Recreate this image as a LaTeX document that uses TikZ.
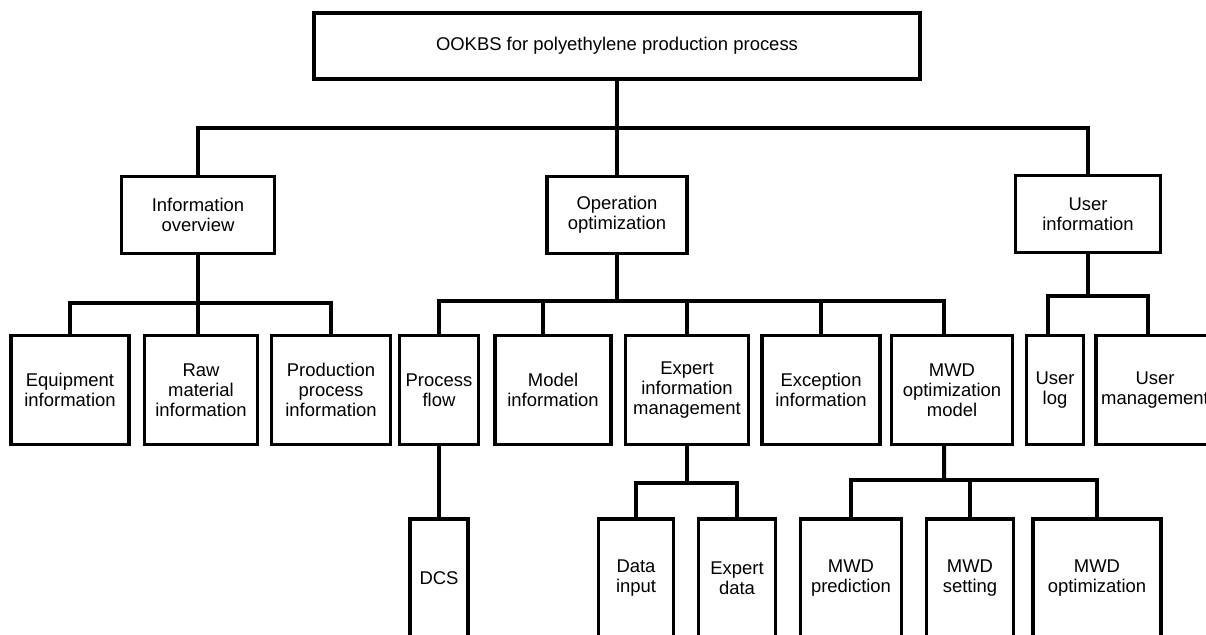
\documentclass[tikz,border=0pt]{standalone}
\usepackage{fontspec}
\setmainfont{Liberation Sans}

\begin{document}
\begin{tikzpicture}[
  x=0.02cm, y=-0.02cm,
  box/.style={draw, line width=0.07cm, fill=white, align=center,
    inner sep=2pt, outer sep=0pt, font=\fontsize{10.5}{11.4}\selectfont},
  sz/.style 2 args={minimum width=#1*0.02cm, minimum height=#2*0.02cm},
  link/.style={line width=0.08cm}
]
\path[use as bounding box] (0,0) rectangle (1206,635);
\clip (0,0) rectangle (1206,635);

\node[box, sz={606}{66}] (root) at (617,46) {OOKBS for polyethylene production process};
\node[box, sz={153}{77}] (info) at (198,215) {Information\\overview};
\node[box, sz={140}{77}] (oper) at (617,215) {Operation\\optimization};
\node[box, sz={145}{77}] (user) at (1088,214) {User\\information};

\node[box, sz={118}{109}] (equip) at (70,390) {Equipment\\information};
\node[box, sz={113}{109}] (raw) at (201,390) {Raw\\material\\information};
\node[box, sz={119}{109}] (prod) at (331,390) {Production\\process\\information};
\node[box, sz={79}{109}] (pflow) at (439,390) {Process\\flow};
\node[box, sz={116}{109}] (model) at (553,390) {Model\\information};
\node[box, sz={123}{109}] (expert) at (687,390) {Expert\\information\\management};
\node[box, sz={118}{109}] (exc) at (821,390) {Exception\\information};
\node[box, sz={121}{109}] (mwd) at (952,390) {MWD\\optimization\\model};
\node[box, sz={57}{109}] (ulog) at (1055,390) {User\\log};
\node[box, sz={118}{109}] (umgmt) at (1155,390) {User\\management};

\node[box, sz={58}{118}] (dcs) at (439,578) {DCS};
\node[box, sz={75}{118}] (dinput) at (636,578) {Data\\input};
\node[box, sz={77}{118}] (edata) at (737,578) {Expert\\data};
\node[box, sz={101}{118}] (mpred) at (851,578) {MWD\\prediction};
\node[box, sz={87}{118}] (mset) at (970,578) {MWD\\setting};
\node[box, sz={128}{118}] (mopt) at (1097,578) {MWD\\optimization};

% junctions
\coordinate (j0) at (617,128);
\coordinate (j1) at (198,303);
\coordinate (j2) at (617,301);
\coordinate (j3) at (687,483);
\coordinate (j4) at (944,480);
\coordinate (j5) at (1088,296);
\coordinate (dm) at ([xshift=-0.2cm]model.north);
\coordinate (dw) at ([xshift=-0.16cm]mwd.north);
\coordinate (dw2) at ([xshift=-0.16cm]mwd.south);
\coordinate (dl) at ([xshift=-0.14cm]ulog.north);
\coordinate (du) at ([xshift=-0.14cm]umgmt.north);

% top level
\draw[link] (root) -- (oper);
\draw[link] (info.north) |- (j0) -| (user.north);

% information overview
\draw[link] (info.south) -- (j1) -- (j1 |- raw.north);
\draw[link] (equip.north) |- (j1) -| (prod.north);

% operation optimization
\draw[link] (oper.south) -- (j2);
\draw[link] (pflow.north) |- (j2) -| (dw);
\draw[link] (dm) -- (dm |- j2);
\draw[link] (expert.north) -- (expert.north |- j2);
\draw[link] (exc.north) -- (exc.north |- j2);
\draw[link] (pflow.south) -- (dcs.north);
\draw[link] (expert.south) -- (j3);
\draw[link] (dinput.north) |- (j3) -| (edata.north);
\draw[link] (dw2) -- (j4);
\draw[link] (mpred.north) |- (j4) -| (mopt.north);
\draw[link] (mset.north) -- (mset.north |- j4);

% user information
\draw[link] (user.south) -- (j5);
\draw[link] (dl) |- (j5) -| (du);
\end{tikzpicture}
\end{document}
